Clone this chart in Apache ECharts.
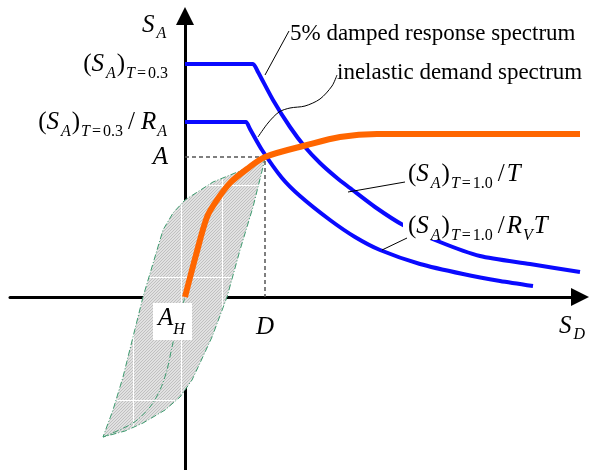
<!DOCTYPE html>
<html>
<head>
<meta charset="utf-8">
<script src="https://cdn.jsdelivr.net/npm/echarts@6/dist/echarts.min.js"></script>
<style>
  html, body { margin: 0; padding: 0; background: #fff; }
  #chart { width: 590px; height: 470px; }
</style>
</head>
<body>
<div id="chart"></div>
<script>
// Capacity spectrum method: spectral acceleration S_A vs spectral displacement S_D
// (schematic units, origin at the axes crossing)

// 5% damped elastic response spectrum
const elasticSpectrum = [
  [0, 23.3], [6.4, 23.3], [6.8, 23.3], [7.3, 22.5], [8.8, 19.7], [10.5, 17.0], [12.0, 15.0],
  [13.5, 13.4], [15.2, 11.9], [16.5, 10.9], [19.0, 9.0], [21.8, 7.2], [25.5, 5.5],
  [29.5, 4.1], [34.5, 3.3], [39.5, 2.5]
];
// inelastic demand spectrum (reduced by R_A / R_V)
const inelasticSpectrum = [
  [0, 17.5], [5.7, 17.5], [6.1, 17.5], [6.5, 16.8], [7.7, 14.7], [9.7, 11.9], [11.5, 10.1],
  [14.5, 7.7], [17.0, 6.0], [19.5, 4.7], [23.5, 3.3], [27.8, 2.3], [31.5, 1.6], [34.8, 1.1]
];
// capacity (pushover) curve
const capacityCurve = [
  [0, 0], [1.1, 4.2], [2.2, 8.0], [3.2, 9.7], [4.5, 11.4], [6.2, 12.8], [8.0, 14.0],
  [12.2, 15.2], [15.5, 16.0], [19.2, 16.3], [23.5, 16.3], [39.5, 16.3]
];
// performance point
const perfD = 8.0;
const perfA = 14.0;
// hysteresis loop: upper branch (from peak down to the reversal) and lower branch (back up)
const loopUpper = [
  [8.0, 14.0], [5.5, 12.6], [2.8, 11.5], [0, 9.7], [-1.2, 8.4], [-2.2, 6.7],
  [-4.2, 0], [-5.2, -4.0], [-6.2, -8.0], [-7.2, -11.3], [-8.2, -14.0]
];
const loopLower = [
  [-8.2, -14.0], [-6.0, -13.4], [-4.2, -12.6], [-2.0, -11.3], [-0.5, -10.0], [0.7, -8.3],
  [1.5, -6.6], [2.7, -4.0], [4.2, 0], [5.5, 4.7], [6.8, 9.0], [7.8, 13.0], [8.0, 14.0]
];
const loopInner = [
  [-8.2, -14.0], [-5.2, -12.6], [-3.5, -11.0], [-2.5, -9.3], [-1.8, -7.3], [-1.3, -5.0],
  [-0.7, -2.5], [0, 0]
];
// faint reference lines showing through the hatched area
const loopGridX = [-5.2, -0.4, 3.7];
const loopGridY = [11.2, 2.0, -10.3];

// axis tick values and their labels
const yTickValues = [23.3, 17.5, perfA];
const yTickLabels = [
  '{n|(}{s|S}{si|A}{n|)}{st|T}{eq|=}{sn|0.3}',
  '{n|(}{s|S}{si|A}{n|)}{st|T}{eq|=}{sn|0.3}{slr|/}{r|R}{si|A}',
  '{i|A}'
];
const xTickValues = [perfD];
const xTickLabels = ['{i|D}'];

const SERIF = '"Liberation Serif", "Times New Roman", serif';
const MAIN = 25, SUB = 16, TEXT = 23;

function mkRich(shift) {
  const base = (size, italic, pad) => ({
    fontFamily: SERIF, fontSize: size, fontStyle: italic ? 'italic' : 'normal',
    font: (italic ? 'italic ' : '') + size + 'px ' + SERIF,
    color: '#000', fill: '#000', lineHeight: 30, padding: pad || [0, 0, 0, 0]
  });
  const d = shift * 2;
  return {
    n: base(MAIN, false),
    i: base(MAIN, true),
    s: base(MAIN, true, [0, 2, 0, 0]),
    r: base(MAIN, true, [0, 1, 0, 0]),
    sl: base(MAIN, false, [0, 2, 0, 5]),
    slr: base(MAIN, false, [0, 6, 0, 5]),
    si: base(SUB, true, [d, 1, 0, 0]),
    st: base(SUB, true, [d, 0, 0, 1]),
    eq: base(SUB, false, [d, 2, 0, 2]),
    sn: base(SUB, false, [d, 0, 0, 0])
  };
}
const rich = mkRich(9.5);
const richName = mkRich(9);
const richLow = mkRich(12);

const chart = echarts.init(document.getElementById('chart'), null, { renderer: 'canvas' });

const BLUE = '#0a0aff', ORANGE = '#ff6600', GREEN = '#3c9a6e';
const GRID = { left: 10, right: 10, top: 16, bottom: 0 };
const X_MIN = -17.5, X_MAX = 39.5, Y_MIN = -17.3, Y_MAX = 28.1;
const W = 590 - GRID.left - GRID.right, H = 470 - GRID.top - GRID.bottom;

// hatched fill with thin white reference lines, built in screen space
let loopFill = null;
function getLoopFill(api) {
  if (loopFill) return loopFill;
  const cv = document.createElement('canvas');
  cv.width = 590; cv.height = 470;
  const c = cv.getContext('2d');
  c.fillStyle = '#e1e1e1'; c.fillRect(0, 0, cv.width, cv.height);
  c.fillStyle = '#c0c0c0';
  for (let y = 0; y < cv.height; y++) {
    for (let x = (y % 3); x < cv.width; x += 3) c.fillRect(x, cv.height - 1 - y, 1, 1);
  }
  c.strokeStyle = '#ffffff'; c.lineWidth = 1;
  loopGridX.forEach(v => {
    const px = Math.round(api.coord([v, 0])[0]) + 0.5;
    c.beginPath(); c.moveTo(px, 0); c.lineTo(px, cv.height); c.stroke();
  });
  loopGridY.forEach(v => {
    const py = Math.round(api.coord([0, v])[1]) + 0.5;
    c.beginPath(); c.moveTo(0, py); c.lineTo(cv.width, py); c.stroke();
  });
  loopFill = { image: cv, repeat: 'no-repeat' };
  return loopFill;
}

chart.setOption({
  animation: false,
  backgroundColor: '#fff',
  grid: Object.assign({ containLabel: false, outerBoundsMode: 'none' }, GRID),
  xAxis: {
    type: 'value', min: X_MIN, max: X_MAX, position: 'bottom',
    // place the axis on S_A = 0
    offset: -H * (0 - Y_MIN) / (Y_MAX - Y_MIN),
    axisLine: { onZero: false, symbol: ['none', 'triangle'], symbolSize: [18, 18], lineStyle: { color: '#000', width: 3 } },
    axisTick: { show: false },
    splitLine: { show: false },
    axisLabel: {
      customValues: xTickValues, margin: 15,
      formatter: v => xTickLabels[xTickValues.indexOf(v)] || '',
      rich: rich
    }
  },
  yAxis: {
    type: 'value', min: Y_MIN, max: Y_MAX, position: 'left',
    // place the axis on S_D = 0
    offset: -W * (0 - X_MIN) / (X_MAX - X_MIN),
    axisLine: { onZero: false, symbol: ['none', 'triangle'], symbolSize: [18, 18], lineStyle: { color: '#000', width: 3 } },
    axisTick: { show: false },
    splitLine: { show: false },
    axisLabel: {
      customValues: yTickValues, margin: 17,
      formatter: v => yTickLabels[yTickValues.indexOf(v)] || '',
      rich: rich
    }
  },
  series: [
    {
      type: 'custom', coordinateSystem: 'cartesian2d', z: 1, clip: false,
      data: [[0, 0]],
      renderItem: (params, api) => ({
        type: 'polygon',
        shape: { points: loopUpper.concat(loopLower.slice(1)).map(p => api.coord(p)) },
        style: { fill: getLoopFill(api), stroke: GREEN, lineWidth: 1, lineDash: [6, 2, 1, 2] }
      })
    },
    {
      type: 'line', data: loopInner, smooth: 0.3, symbol: 'none', z: 2, clip: false,
      lineStyle: { color: GREEN, width: 1, type: [6, 2, 1, 2] }
    },
    {
      type: 'line', data: [[0, perfA], [perfD, perfA], [perfD, 0]], symbol: 'none', z: 3, clip: false,
      lineStyle: { color: '#555', width: 1.5, type: [4, 3] }
    },
    {
      type: 'line', data: elasticSpectrum, smooth: 0.25, symbol: 'none', z: 4, clip: false,
      lineStyle: { color: BLUE, width: 4 }
    },
    {
      type: 'line', data: inelasticSpectrum, smooth: 0.25, symbol: 'none', z: 4, clip: false,
      lineStyle: { color: BLUE, width: 4 }
    },
    {
      type: 'line', data: capacityCurve, smooth: 0.3, symbol: 'none', z: 5, clip: false,
      lineStyle: { color: ORANGE, width: 6 }
    }
  ]
});

// annotations: axis names, curve labels and leader lines (pixel layout)
const txt = (x, y, text, r, size) => ({
  type: 'text', x: x, y: y, z: 100,
  style: {
    text: text, rich: r || rich, font: (size || MAIN) + 'px ' + SERIF, fill: '#000',
    align: 'left', textAlign: 'left', verticalAlign: 'middle', textVerticalAlign: 'middle'
  }
});
const leader = (points, smooth) => ({
  type: 'polyline', z: 101,
  shape: { points: points, smooth: smooth || 0 },
  style: { stroke: '#000', lineWidth: 1, fill: null }
});

chart.setOption({
  graphic: [
    { type: 'rect', z: 99, shape: { x: 403, y: 205, width: 152, height: 35 }, style: { fill: '#fff' } },
    { type: 'rect', z: 99, shape: { x: 153, y: 303, width: 39, height: 37 }, style: { fill: '#fff' } },
    txt(142, 25, '{s|S}{si|A}', richName),
    txt(559, 326, '{s|S}{si|D}', richName),
    txt(158, 318, '{i|A}{si|H}', richLow),
    txt(290, 34, '5% damped response spectrum', null, TEXT),
    txt(337, 73, 'inelastic demand spectrum', null, TEXT),
    txt(408, 174, '{n|(}{s|S}{si|A}{n|)}{st|T}{eq|=}{sn|1.0}{sl|/}{i|T}'),
    txt(408, 226, '{n|(}{s|S}{si|A}{n|)}{st|T}{eq|=}{sn|1.0}{sl|/}{r|R}{si|V}{i|T}'),
    leader([[289, 31], [265, 75]]),
    leader([[337, 75], [332, 86], [320, 99], [305, 106], [290, 108], [279, 112], [268, 123], [258, 137]], 0.3),
    leader([[405, 182], [348, 192]]),
    leader([[407, 238], [382, 250]])
  ]
});
</script>
</body>
</html>
